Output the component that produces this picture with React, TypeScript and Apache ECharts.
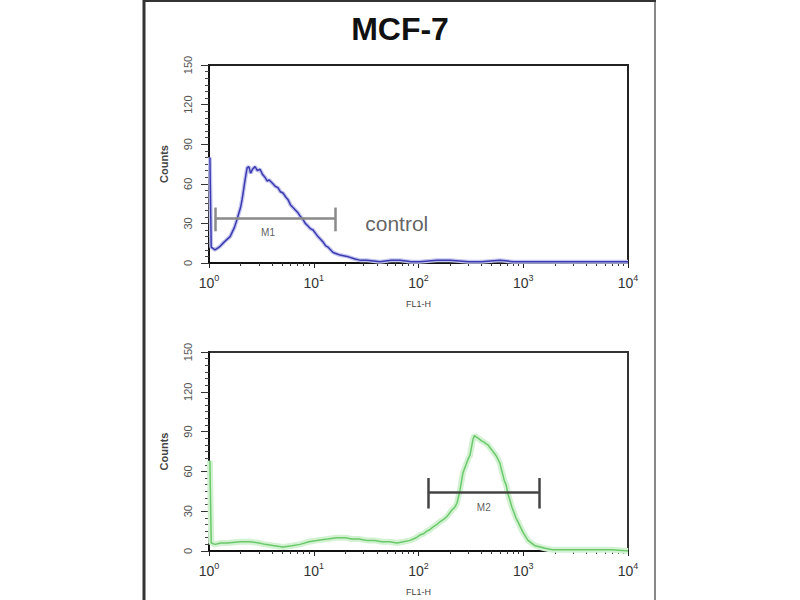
import React, { useEffect, useRef } from "react";
import * as echarts from "echarts";

// ---- data ----
const titleText = "MCF-7";
const xMin = 1;
const xMax = 10000;
const yMax = 150;
const yInterval = 30;

// control (top panel) histogram: [FL1-H, counts]
const controlHist: [number, number][] = [
  [1.02, 80], [1.05, 12], [1.14, 10], [1.25, 12], [1.4, 16], [1.59, 20], [1.75, 27],
  [1.85, 33], [2.0, 42], [2.07, 48], [2.21, 63], [2.31, 72], [2.4, 73], [2.5, 68],
  [2.6, 71], [2.75, 73], [2.9, 70], [3.07, 71], [3.25, 67], [3.42, 65], [3.6, 62],
  [3.74, 63], [4.08, 60], [4.3, 58], [4.56, 57], [4.8, 54], [5.09, 53], [5.4, 50],
  [5.68, 48], [6.0, 44], [6.34, 42], [6.7, 40], [7.08, 38], [7.5, 35], [7.89, 33],
  [8.3, 30], [8.81, 28], [9.3, 26], [9.84, 25], [10.98, 20], [11.6, 18], [12.25, 16],
  [13.0, 13], [13.7, 12], [15.3, 8], [16.5, 7], [17.8, 6], [20.8, 5], [24.8, 3],
  [28, 2], [32.2, 2], [42.9, 1], [55, 2], [66.6, 2], [85, 1], [103, 1], [150, 2],
  [200, 2], [300, 1], [400, 1], [600, 2], [800, 1], [1000, 1], [1800, 1], [3000, 1],
  [5400, 1], [10000, 1],
];

// sample (bottom panel) histogram: [FL1-H, counts]
const sampleHist: [number, number][] = [
  [1.02, 68], [1.05, 6], [1.14, 5], [1.3, 6], [1.49, 6], [2.0, 7], [2.46, 7], [3.0, 6],
  [3.42, 5], [4.2, 4], [5.09, 3], [6.2, 4], [7.39, 5], [9.0, 7], [10.7, 8], [13.5, 9],
  [16.7, 10], [20, 10], [23.2, 9], [27, 9], [32.2, 8], [38, 8], [44.8, 7], [53, 7],
  [62.3, 6], [72, 7], [83, 8], [95, 10], [103, 12], [112, 13], [120, 15], [128, 16],
  [137, 18], [150, 20], [160, 22], [175, 24], [187, 26], [200, 29], [209, 31],
  [222, 33], [233, 36], [249, 46], [258, 53], [266, 59], [284, 65], [300, 70],
  [310, 72], [320, 78], [331, 84], [342, 87], [354, 86], [370, 85], [386, 84],
  [400, 83], [422, 82], [440, 81], [460, 80], [480, 78], [503, 76], [525, 74],
  [549, 72], [575, 69], [600, 66], [620, 61], [641, 57], [660, 53], [685, 50],
  [715, 43], [748, 38], [780, 33], [816, 29], [850, 25], [891, 22], [940, 18],
  [995, 14], [1050, 11], [1110, 8], [1200, 6], [1294, 4], [1450, 3], [1614, 2],
  [1900, 1], [2244, 1], [3000, 1], [4000, 1], [5400, 1], [7000, 1], [10000, 0],
];

// gates: [left, right, level, tickLow, tickHigh, labelX, labelY]
const gateM1 = { name: "M1", left: 1.14, right: 15.9, level: 34, low: 24, high: 42, labelX: 3.66, labelY: 23 };
const gateM2 = { name: "M2", left: 123, right: 1410, level: 44, low: 32, high: 55, labelX: 420, labelY: 33 };

const controlLabel = { text: "control", x: 62, y: 30 };

function gateLines(g: typeof gateM1) {
  return [
    [{ coord: [g.left, g.level] }, { coord: [g.right, g.level] }],
    [{ coord: [g.left, g.low] }, { coord: [g.left, g.high] }],
    [{ coord: [g.right, g.low] }, { coord: [g.right, g.high] }],
  ];
}

export default function App() {
  const ref = useRef<HTMLDivElement>(null);

  useEffect(() => {
    if (!ref.current) return;
    const chart = echarts.init(ref.current, null, { renderer: "svg" });
    const font = "'Liberation Sans', Arial, sans-serif";

    const xAxisFor = (gridIndex: number) => ({
      type: "log",
      logBase: 10,
      gridIndex,
      min: xMin,
      max: xMax,
      axisLine: { show: true, lineStyle: { color: "#111", width: 2 } },
      axisTick: { show: true, length: 5, lineStyle: { color: "#222" } },
      minorTick: { show: true, splitNumber: 9, length: 3, lineStyle: { color: "#333" } },
      splitLine: { show: false },
      minorSplitLine: { show: false },
      axisLabel: {
        margin: 10,
        formatter: (v: number) => `{b|10}{s|${Math.round(Math.log10(v))}}`,
        rich: {
          b: { fontSize: 14, color: "#333", fontFamily: font, verticalAlign: "bottom" },
          s: { fontSize: 9, color: "#333", fontFamily: font, padding: [0, 0, 8, 0], verticalAlign: "bottom" },
        },
      },
      name: "FL1-H",
      nameLocation: "middle",
      nameGap: 36,
      nameTextStyle: { fontSize: 9, color: "#444", fontFamily: font },
    });

    const yAxisFor = (gridIndex: number) => ({
      type: "value",
      gridIndex,
      min: 0,
      max: yMax,
      interval: yInterval,
      axisLine: { show: true, lineStyle: { color: "#111", width: 2 } },
      axisTick: { show: true, length: 8, lineStyle: { color: "#333" } },
      minorTick: { show: true, splitNumber: 6, length: 4, lineStyle: { color: "#444" } },
      splitLine: { show: false },
      axisLabel: { rotate: 90, fontSize: 11, color: "#555", margin: 16, fontFamily: font },
      name: "Counts",
      nameLocation: "middle",
      nameRotate: 90,
      nameGap: 40,
      nameTextStyle: { fontSize: 11, color: "#444", fontFamily: font, fontWeight: "bold" },
    });

    chart.setOption({
      animation: false,
      backgroundColor: "#fff",
      title: {
        text: titleText,
        left: "center",
        top: 8,
        textStyle: { fontSize: 32, fontWeight: "bold", color: "#111", fontFamily: font },
      },
      grid: [
        { left: 209, top: 65, width: 419, height: 198, show: true, borderColor: "#222", borderWidth: 2 },
        { left: 209, top: 352, width: 419, height: 199, show: true, borderColor: "#333", borderWidth: 2 },
      ],
      xAxis: [xAxisFor(0), xAxisFor(1)],
      yAxis: [yAxisFor(0), yAxisFor(1)],
      graphic: [
        { type: "line", shape: { x1: 144, y1: 0, x2: 144, y2: 600 }, style: { stroke: "#333", lineWidth: 3 } },
        { type: "line", shape: { x1: 655, y1: 0, x2: 655, y2: 600 }, style: { stroke: "#888", lineWidth: 2 } },
        { type: "line", shape: { x1: 143, y1: 1, x2: 656, y2: 1 }, style: { stroke: "#333", lineWidth: 2 } },
      ],
      series: [
        {
          type: "line",
          xAxisIndex: 0,
          yAxisIndex: 0,
          data: controlHist,
          symbol: "none",
          lineStyle: { color: "#c5c5ef", width: 4 },
          silent: true,
        },
        {
          type: "line",
          xAxisIndex: 0,
          yAxisIndex: 0,
          data: controlHist,
          symbol: "none",
          lineStyle: { color: "#3b3bb0", width: 1.5 },
          markLine: {
            symbol: "none",
            silent: true,
            label: { show: false },
            lineStyle: { color: "#8a8a8a", width: 2.5, type: "solid" },
            data: gateLines(gateM1),
          },
        },
        {
          type: "line",
          xAxisIndex: 1,
          yAxisIndex: 1,
          data: sampleHist,
          symbol: "none",
          lineStyle: { color: "#d2f2d2", width: 6 },
          silent: true,
        },
        {
          type: "line",
          xAxisIndex: 1,
          yAxisIndex: 1,
          data: sampleHist,
          symbol: "none",
          lineStyle: { color: "#6cc86c", width: 1.5 },
          markLine: {
            symbol: "none",
            silent: true,
            label: { show: false },
            lineStyle: { color: "#444", width: 2.5, type: "solid" },
            data: gateLines(gateM2),
          },
        },
        {
          type: "scatter",
          xAxisIndex: 0,
          yAxisIndex: 0,
          symbolSize: 0,
          data: [
            { value: [gateM1.labelX, gateM1.labelY], name: gateM1.name, label: { fontSize: 10 } },
            { value: [controlLabel.x, controlLabel.y], name: controlLabel.text, label: { fontSize: 21, color: "#3a3a3a" } },
          ],
          label: { show: true, position: "inside", formatter: "{b}", color: "#333", fontFamily: font },
          silent: true,
        },
        {
          type: "scatter",
          xAxisIndex: 1,
          yAxisIndex: 1,
          symbolSize: 0,
          data: [{ value: [gateM2.labelX, gateM2.labelY], name: gateM2.name }],
          label: { show: true, position: "inside", formatter: "{b}", color: "#333", fontSize: 10, fontFamily: font },
          silent: true,
        },
      ],
    });

    return () => chart.dispose();
  }, []);

  return <div ref={ref} style={{ position: "fixed", left: 0, top: 0, width: 800, height: 600 }} />;
}
